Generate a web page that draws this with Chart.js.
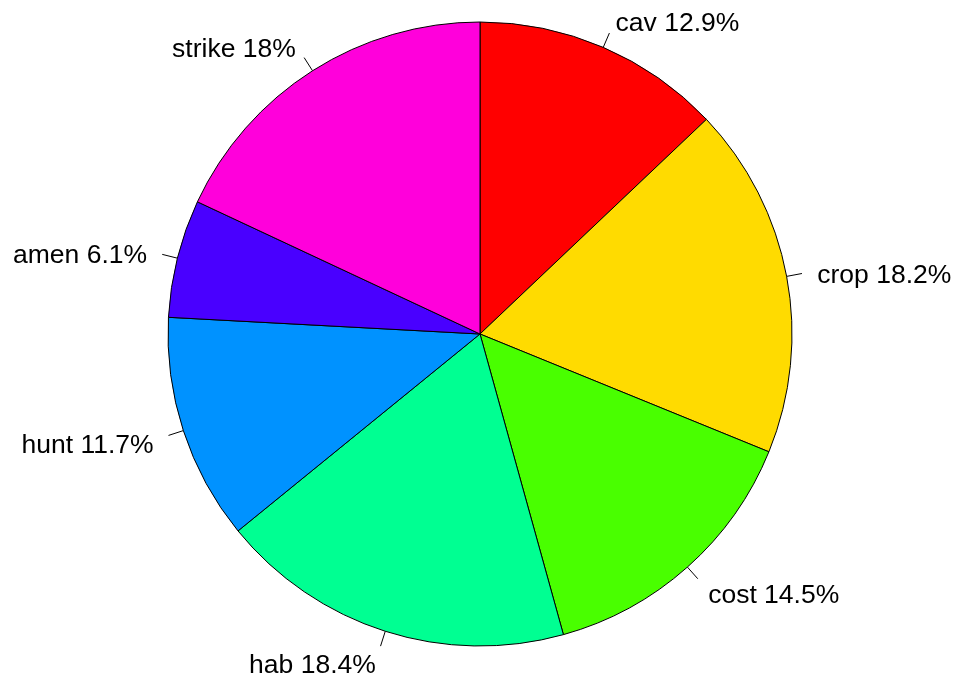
<!DOCTYPE html>
<html>
<head>
<meta charset="utf-8">
<script src="https://cdn.jsdelivr.net/npm/chart.js@4"></script>
<style>
  html, body { margin: 0; padding: 0; background: #fff; }
  canvas { display: block; }
</style>
</head>
<body>
<canvas id="myChart" width="957" height="681"></canvas>
<script>
const labels = ["cav", "crop", "cost", "hab", "hunt", "amen", "strike"];
const percents = [12.9, 18.2, 14.5, 18.4, 11.7, 6.1, 18];
const colors = ["#FF0000", "#FFDB00", "#49FF00", "#00FF92", "#0092FF", "#4900FF", "#FF00DB"];

// R style labels: short tick out to 1.05r, text at 1.1r
const pieLabels = {
  id: "pieLabels",
  afterDatasetsDraw(chart) {
    const ctx = chart.ctx;
    const arcs = chart.getDatasetMeta(0).data;
    ctx.save();
    ctx.strokeStyle = "#000";
    ctx.lineWidth = 1;
    ctx.fillStyle = "#000";
    ctx.font = "26.5px 'Liberation Sans', Arial, sans-serif";
    ctx.textBaseline = "middle";
    arcs.forEach((arc, i) => {
      const { x, y, startAngle, endAngle, outerRadius } = arc.getProps(["x", "y", "startAngle", "endAngle", "outerRadius"], true);
      const mid = (startAngle + endAngle) / 2;
      const c = Math.cos(mid), s = Math.sin(mid);
      ctx.beginPath();
      ctx.moveTo(x + c * outerRadius, y + s * outerRadius);
      ctx.lineTo(x + c * outerRadius * 1.05, y + s * outerRadius * 1.05);
      ctx.stroke();
      ctx.textAlign = c >= 0 ? "left" : "right";
      ctx.fillText(labels[i] + " " + percents[i] + "%", x + c * outerRadius * 1.1, y + s * outerRadius * 1.1 + 5);
    });
    ctx.restore();
  }
};

const myChart = new Chart(document.getElementById("myChart"), {
  type: "pie",
  data: {
    labels: labels,
    datasets: [
      {
        data: percents,
        backgroundColor: colors,
        borderColor: "#000",
        borderWidth: 1,
      },
    ],
  },
  options: {
    responsive: false,
    animation: false,
    radius: 312,
    layout: { padding: { left: 168, right: 165, top: 22, bottom: 35 } },
    plugins: {
      legend: { display: false },
      tooltip: { enabled: false },
    },
  },
  plugins: [pieLabels],
});
</script>
</body>
</html>
